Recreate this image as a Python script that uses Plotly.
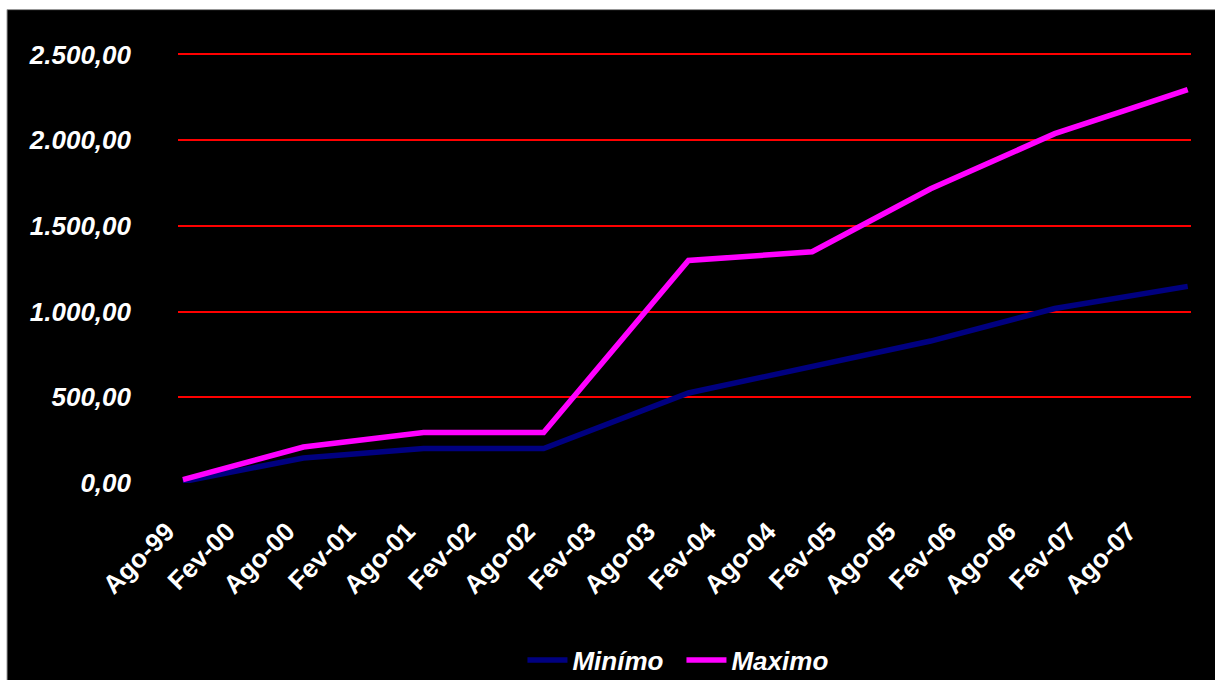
import plotly.graph_objects as go

# Observation dates and values for each series
datas = ["1999-08-01", "2000-08-01", "2001-08-01", "2002-08-01", "2003-10-15",
         "2004-10-25", "2005-10-20", "2006-11-01", "2007-06-01", "2007-12-10"]
minimo = [8, 146, 201, 201, 525, 676, 828, 1018, 1083, 1147]
maximo = [20, 210, 294, 294, 1298, 1349, 1716, 2038, 2172, 2295]

# Semiannual tick marks with Portuguese month abbreviations
tick_datas = ["1999-08-01", "2000-02-01", "2000-08-01", "2001-02-01", "2001-08-01",
              "2002-02-01", "2002-08-01", "2003-02-01", "2003-08-01", "2004-02-01",
              "2004-08-01", "2005-02-01", "2005-08-01", "2006-02-01", "2006-08-01",
              "2007-02-01", "2007-08-01"]
tick_rotulos = ["Ago-99", "Fev-00", "Ago-00", "Fev-01", "Ago-01", "Fev-02", "Ago-02",
                "Fev-03", "Ago-03", "Fev-04", "Ago-04", "Fev-05", "Ago-05", "Fev-06",
                "Ago-06", "Fev-07", "Ago-07"]
y_ticks = [0, 500, 1000, 1500, 2000, 2500]

FONTE = "Liberation Sans, Arial, sans-serif"

fig = go.Figure()
fig.add_trace(go.Scatter(
    x=datas, y=minimo, mode="lines", name="Minímo",
    line=dict(color="#000080", width=5.5),
))
fig.add_trace(go.Scatter(
    x=datas, y=maximo, mode="lines", name="Maximo",
    line=dict(color="#FF00FF", width=5.5),
))

# Black chart area with a thin grey frame on a white page
fig.add_shape(
    type="rect", xref="paper", yref="paper",
    x0=-0.1688, x1=1.05, y0=-0.52, y1=1.0958,
    fillcolor="black", line=dict(color="#9a9a9a", width=1), layer="below",
)

fig.update_layout(
    width=1215, height=680,
    margin=dict(l=178, r=24, t=51, b=197, autoexpand=False),
    paper_bgcolor="white",
    plot_bgcolor="black",
    separators=",.",
    font=dict(family=FONTE, color="white", size=25, weight="bold"),
    showlegend=True,
    legend=dict(
        orientation="h", x=0.497, xanchor="center", y=-0.41, yanchor="middle",
        font=dict(family=FONTE, size=26, color="white", weight="bold", style="italic"),
        bgcolor="rgba(0,0,0,0)", itemwidth=40, entrywidth=104,
    ),
    xaxis=dict(
        type="date", automargin=False,
        range=["1999-07-17", "2007-12-20"],
        tickmode="array", tickvals=tick_datas, ticktext=tick_rotulos,
        tickangle=-45,
        ticklabelstandoff=27,
        ticklabelshift=-16,
        tickfont=dict(family=FONTE, size=26, color="white", weight="bold"),
        showgrid=False, zeroline=False, showline=False, ticks="",
    ),
    yaxis=dict(
        automargin=False,
        range=[0, 2520],
        tickmode="array", tickvals=y_ticks,
        tickformat=",.2f",
        ticklabelstandoff=46,
        tickfont=dict(family=FONTE, size=26, color="white", weight="bold", style="italic"),
        showgrid=True, gridcolor="#FF0000", gridwidth=1.5,
        zeroline=True, zerolinecolor="black", zerolinewidth=1,
        showline=False, ticks="",
    ),
)

fig.write_html("out.html")
